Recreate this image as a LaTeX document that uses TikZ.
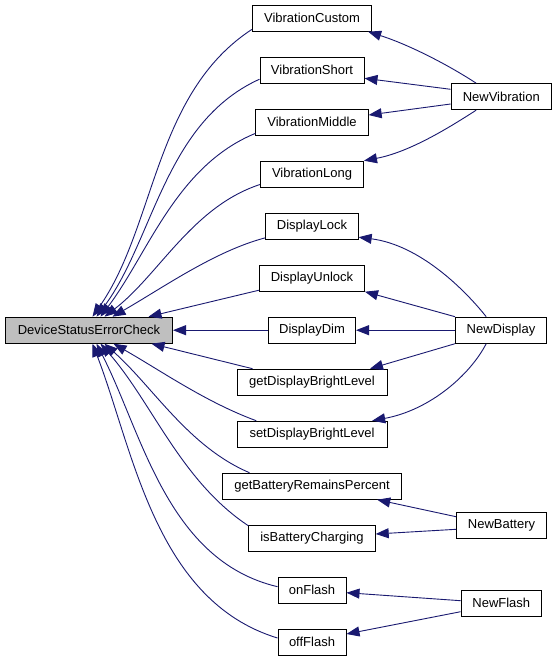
\documentclass[tikz,border=0pt]{standalone}
\usepackage{fontspec}
\setmainfont{Liberation Sans}
\usetikzlibrary{arrows.meta,calc}
\definecolor{edgeblue}{RGB}{25,25,112}
\definecolor{rootgray}{RGB}{191,191,191}
\begin{document}
\begin{tikzpicture}[x=1bp,y=-1bp,
  box/.style={draw=black, line width=1bp, minimum height=26bp, inner sep=0pt,
    font=\fontsize{13bp}{15bp}\selectfont, text=black},
  edge/.style={draw=edgeblue, line width=0.9bp, -{Triangle[length=13bp,width=10bp]}},
]
\useasboundingbox[fill=white] (0,0) rectangle (557,661);
% root
\node[box, fill=rootgray, minimum width=167bp] (dsec) at (89,330.2) {DeviceStatusErrorCheck};
% middle column
\node[box, minimum width=119.3bp] (vc)   at (312,18.2)  {VibrationCustom};
\node[box, minimum width=104bp]   (vs)   at (312,70.2)  {VibrationShort};
\node[box, minimum width=112.3bp] (vm)   at (312,122.2) {VibrationMiddle};
\node[box, minimum width=103bp]   (vl)   at (312,174.2) {VibrationLong};
\node[box, minimum width=92.3bp]  (dl)   at (312,226.2) {DisplayLock};
\node[box, minimum width=105bp]   (du)   at (312,278.2) {DisplayUnlock};
\node[box, minimum width=87bp]    (dd)   at (312,330.2) {DisplayDim};
\node[box, minimum width=150bp]   (gdbl) at (312,382.2) {getDisplayBrightLevel};
\node[box, minimum width=150bp]   (sdbl) at (312,434.2) {setDisplayBrightLevel};
\node[box, minimum width=179.6bp] (gbrp) at (312,486.2) {getBatteryRemainsPercent};
\node[box, minimum width=126.4bp] (ibc)  at (312,538.2) {isBatteryCharging};
\node[box, minimum width=68bp]    (onf)  at (312,590.2) {onFlash};
\node[box, minimum width=68bp]    (offf) at (312,642.2) {offFlash};
% right column
\node[box, minimum width=100.3bp] (nv) at (501.3,96.7)  {NewVibration};
\node[box, minimum width=91bp]    (nd) at (501,330.2)   {NewDisplay};
\node[box, minimum width=90bp]    (nb) at (501.5,525.8) {NewBattery};
\node[box, minimum width=80.3bp]  (nf) at (501.3,603.3) {NewFlash};
% middle -> root (top)
\draw[edge] ($(vc.south west)+(0,-2.3)$) .. controls (154,93.5) and (155.9,225.4) .. ($(dsec.north west)+(87.5,0)$);
\draw[edge] ($(vs.south west)+(0,-4.5)$) .. controls (164.3,122.5) and (153.8,239.9) .. ($(dsec.north west)+(91.5,0)$);
\draw[edge] ($(vm.south west)+(0,-2.3)$) .. controls (176.2,165.9) and (148.4,253.1) .. ($(dsec.north west)+(95.5,0)$);
\draw[edge] ($(vl.south west)+(0,-3.2)$) .. controls (192.3,206.6) and (158.9,275) .. ($(dsec.north west)+(99.5,0)$);
\draw[edge] ($(dl.south west)+(0,-1.9)$) .. controls (215,251) and (163.1,287.6) .. ($(dsec.north west)+(107.5,0)$);
\draw[edge] ($(du.south west)+(0,-1.5)$) -- ($(dsec.north west)+(143.5,0)$);
\draw[edge] (dd.west) -- (dsec.east);
% middle -> root (bottom)
\draw[edge] ($(gdbl.north west)+(16,0)$) -- ($(dsec.south west)+(146.5,0)$);
\draw[edge] ($(sdbl.north west)+(19.7,0)$) .. controls (205.8,402.2) and (160.8,370.6) .. ($(dsec.south west)+(108.5,0)$);
\draw[edge] ($(gbrp.north west)+(27.8,0)$) .. controls (188.5,446.8) and (153.3,387.2) .. ($(dsec.south west)+(99.5,0)$);
\draw[edge] ($(ibc.north west)+(0,1)$) .. controls (180.9,481.1) and (152,402.3) .. ($(dsec.south west)+(95.5,0)$);
\draw[edge] ($(onf.west)+(0,-3.5)$) .. controls (167,560.6) and (142.2,432.8) .. ($(dsec.south west)+(91.5,0)$);
\draw[edge] ($(offf.west)+(0,-4.2)$) .. controls (154.9,600.6) and (133.3,449.4) .. ($(dsec.south west)+(87.5,0)$);
% NewVibration
\draw[edge] ($(nv.north west)+(25.5,0)$) .. controls (450,66) and (410,45) .. ($(vc.south east)+(-4,0)$);
\draw[edge] ($(nv.west)+(0,-7.4)$) -- ($(vs.east)+(0,8.1)$);
\draw[edge] ($(nv.west)+(0,7.3)$) -- ($(vm.east)+(0,-7.2)$);
\draw[edge] ($(nv.south west)+(25.5,0)$) .. controls (450,127) and (410,152) .. (vl.north east);
% NewDisplay
\draw[edge] ($(nd.north west)+(31.2,0)$) .. controls (465,290) and (420,245) .. ($(dl.south east)+(0,-2.5)$);
\draw[edge] (nd.north west) -- (du.south east);
\draw[edge] (nd.west) -- (dd.east);
\draw[edge] (nd.south west) -- ($(gdbl.north east)+(-17.5,0)$);
\draw[edge] ($(nd.south west)+(31.2,0)$) .. controls (470,375) and (430,410) .. ($(sdbl.north east)+(-15.3,0)$);
% NewBattery
\draw[edge] ($(nb.west)+(0,-9.1)$) -- ($(gbrp.south east)+(-25.1,0)$);
\draw[edge] ($(nb.west)+(0,3.5)$) -- ($(ibc.east)+(0,-4.2)$);
% NewFlash
\draw[edge] ($(nf.west)+(0,-2.6)$) -- ($(onf.east)+(0,2.5)$);
\draw[edge] ($(nf.west)+(0,8.4)$) -- ($(offf.east)+(0,-8.2)$);
\end{tikzpicture}
\end{document}
